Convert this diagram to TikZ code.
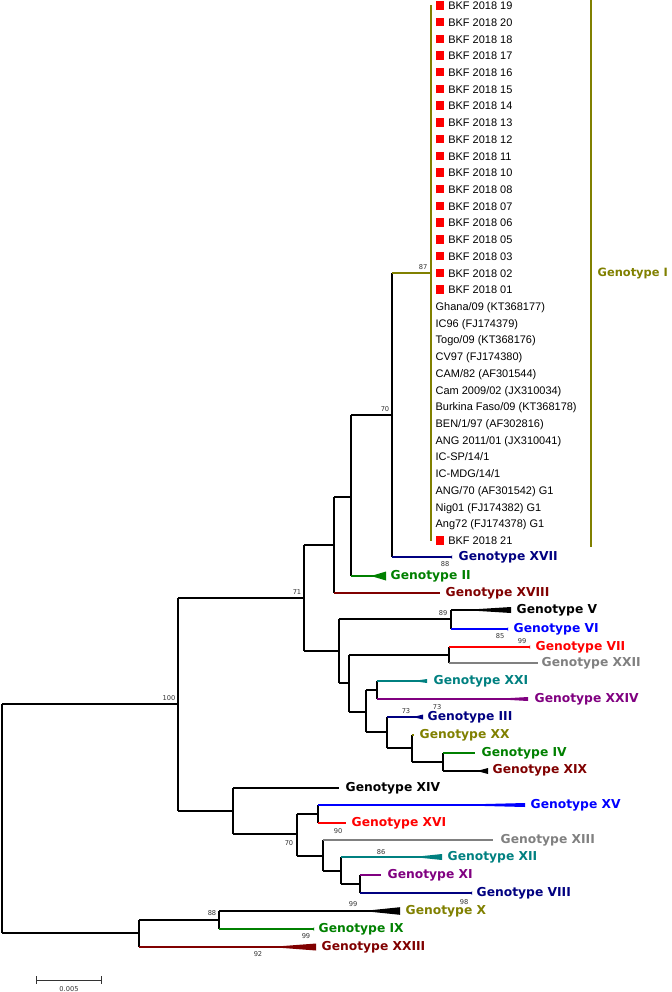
\documentclass[tikz,border=0pt]{standalone}
\usepackage{fontspec}
\setmainfont{Liberation Sans}
\newfontfamily\genofont{DejaVu Sans}
\usetikzlibrary{calc,arrows.meta}
\definecolor{gnavy}{RGB}{0,0,128}
\definecolor{ggreen}{RGB}{0,128,0}
\definecolor{gdred}{RGB}{128,0,0}
\definecolor{gblue}{RGB}{0,0,255}
\definecolor{gred}{RGB}{255,0,0}
\definecolor{ggray}{RGB}{128,128,128}
\definecolor{gteal}{RGB}{0,128,128}
\definecolor{gpurple}{RGB}{128,0,128}
\definecolor{golive}{RGB}{128,128,0}
\newcommand{\bkf}[1]{{\color{red}\rule{4.8pt}{4.8pt}}\hspace{2.4pt}BKF 2018 #1}
\newcommand{\branch}[3][black]{\draw (#2) -- (#2 |- #3); \draw[#1] (#2 |- #3) -- (#3);}
\newcommand{\clade}[4][black]{\fill[#1] ($(#2)+(-#3,0)$) -- ($(#2)+(0,#4)$) -- ($(#2)+(0,-#4)$) -- cycle;}
\begin{document}
\begin{tikzpicture}[x=0.02cm,y=-0.02cm,line width=0.75pt,
    taxon/.style={font=\fontsize{6.25}{7}\selectfont,anchor=base west,inner sep=0pt},
    geno/.style={font=\genofont\bfseries\fontsize{7}{8}\selectfont,anchor=west,inner sep=0pt},
    boot/.style={font=\genofont\fontsize{3.8}{4.5}\selectfont,text=black!80,inner sep=0pt}]
  \useasboundingbox (0,0) rectangle (672,992);
  \coordinate (root) at (2,818.5);
  \coordinate (n100) at (178,704);
  \coordinate (n71) at (304,598);
  \coordinate (nA) at (334,545);
  \coordinate (nB) at (351,497);
  \coordinate (n70) at (392,415);
  \coordinate (n87) at (431,273);
  \coordinate (nC) at (339,651);
  \coordinate (n89) at (451,619);
  \coordinate (nD) at (349,683);
  \coordinate (n99) at (449,655);
  \coordinate (nE) at (366,712);
  \coordinate (nF) at (377,690);
  \coordinate (nG) at (387,732);
  \coordinate (nH) at (412,748);
  \coordinate (nK) at (443,762);
  \coordinate (nL) at (233,811);
  \coordinate (n70b) at (297,834);
  \coordinate (nM) at (318,814);
  \coordinate (nN) at (323,856);
  \coordinate (nP) at (341,871);
  \coordinate (nQ) at (360,884);
  \coordinate (nS) at (139,933);
  \coordinate (n88) at (219,920);
  \coordinate (gTop) at (431,5);
  \coordinate (gBot) at (431,541);
  \coordinate (barTop) at (591,0);
  \coordinate (barBot) at (591,547);
  \coordinate (tXVII) at (452,557);
  \coordinate (tII) at (386,576);
  \coordinate (tXVIII) at (440,593);
  \coordinate (tV) at (511,610);
  \coordinate (tVI) at (508,629);
  \coordinate (tVII) at (530,647);
  \coordinate (tXXII) at (538,663);
  \coordinate (tXXI) at (427,681);
  \coordinate (tXXIV) at (528,699);
  \coordinate (tIII) at (423,717);
  \coordinate (tXX) at (414,735);
  \coordinate (tIV) at (475,753);
  \coordinate (tXIX) at (488,771);
  \coordinate (tXIV) at (339,788);
  \coordinate (tXV) at (525,805);
  \coordinate (tXVI) at (346,823);
  \coordinate (tXIII) at (493,840);
  \coordinate (tXII) at (442,857);
  \coordinate (tXI) at (381,875);
  \coordinate (tVIII) at (472,893);
  \coordinate (tX) at (400,911);
  \coordinate (tIX) at (314,929);
  \coordinate (tXXIII) at (316,947);
  \coordinate (sL) at (36,980);
  \coordinate (sR) at (102,980);

  \branch{root}{n100} \branch{root}{nS}
  \branch{n100}{n71} \branch{n100}{nL}
  \branch{n71}{nA} \branch{n71}{nC}
  \branch{nA}{nB} \branch[gdred]{nA}{tXVIII}
  \branch{nB}{n70} \branch[ggreen]{nB}{tII}
  \branch[golive]{n70}{n87} \branch[gnavy]{n70}{tXVII}
  \draw[golive,line width=1pt] (gTop) -- (gBot);
  \draw[golive,line width=1pt] (barTop) -- (barBot);
  \branch{nC}{n89} \branch{nC}{nD}
  \branch{n89}{tV} \branch[gblue]{n89}{tVI}
  \branch{nD}{n99} \branch{nD}{nE}
  \branch[gred]{n99}{tVII} \branch[ggray]{n99}{tXXII}
  \branch{nE}{nF} \branch{nE}{nG}
  \branch[gteal]{nF}{tXXI} \branch[gpurple]{nF}{tXXIV}
  \branch[gnavy]{nG}{tIII} \branch{nG}{nH}
  \branch[golive]{nH}{tXX} \branch{nH}{nK}
  \branch[ggreen]{nK}{tIV} \branch{nK}{tXIX}
  \branch{nL}{tXIV} \branch{nL}{n70b}
  \branch{n70b}{nM} \branch{n70b}{nN}
  \branch[gblue]{nM}{tXV} \branch[gred]{nM}{tXVI}
  \branch[ggray]{nN}{tXIII} \branch{nN}{nP}
  \branch[gteal]{nP}{tXII} \branch{nP}{nQ}
  \branch[gpurple]{nQ}{tXI} \branch[gnavy]{nQ}{tVIII}
  \branch{nS}{n88} \branch[gdred]{nS}{tXXIII}
  \branch{n88}{tX} \branch[ggreen]{n88}{tIX}

  \clade[ggreen]{tII}{15}{4.5}
  \clade{tV}{48}{3}
  \clade[gteal]{tXXI}{14}{2}
  \clade[gpurple]{tXXIV}{35}{2}
  \clade[gnavy]{tIII}{10}{2.5}
  \clade{tXIX}{11}{3}
  \clade[gblue]{tXV}{80}{2}
  \clade[gteal]{tXII}{29}{3}
  \clade{tX}{37}{3.8}
  \clade[gdred]{tXXIII}{46}{3.5}
  \clade[gnavy]{tXVII}{1}{2}
  \clade[gblue]{tVI}{1}{2}
  \clade[gred]{tVII}{1}{2}
  \clade[gnavy]{tVIII}{1}{2}
  \clade[ggreen]{tIX}{1}{2}

  \path
    (435,9.5) node[taxon] (k19) {\bkf{19}}
    (435,26.2) node[taxon] (k20) {\bkf{20}}
    (435,43.0) node[taxon] (k18) {\bkf{18}}
    (435,59.7) node[taxon] (k17) {\bkf{17}}
    (435,76.4) node[taxon] (k16) {\bkf{16}}
    (435,93.1) node[taxon] (k15) {\bkf{15}}
    (435,109.8) node[taxon] (k14) {\bkf{14}}
    (435,126.5) node[taxon] (k13) {\bkf{13}}
    (435,143.3) node[taxon] (k12) {\bkf{12}}
    (435,160.0) node[taxon] (k11) {\bkf{11}}
    (435,176.7) node[taxon] (k10) {\bkf{10}}
    (435,193.4) node[taxon] (k08) {\bkf{08}}
    (435,210.1) node[taxon] (k07) {\bkf{07}}
    (435,226.9) node[taxon] (k06) {\bkf{06}}
    (435,243.6) node[taxon] (k05) {\bkf{05}}
    (435,260.3) node[taxon] (k03) {\bkf{03}}
    (435,277.0) node[taxon] (k02) {\bkf{02}}
    (435,293.7) node[taxon] (k01) {\bkf{01}}
    (435,310.5) node[taxon] (ghana) {Ghana/09 (KT368177)}
    (435,327.2) node[taxon] (ic96) {IC96 (FJ174379)}
    (435,343.9) node[taxon] (togo) {Togo/09 (KT368176)}
    (435,360.6) node[taxon] (cv97) {CV97 (FJ174380)}
    (435,377.3) node[taxon] (cam82) {CAM/82 (AF301544)}
    (435,394.1) node[taxon] (cam09) {Cam 2009/02 (JX310034)}
    (435,410.8) node[taxon] (burk) {Burkina Faso/09 (KT368178)}
    (435,427.5) node[taxon] (ben) {BEN/1/97 (AF302816)}
    (435,444.2) node[taxon] (ang11) {ANG 2011/01 (JX310041)}
    (435,460.9) node[taxon] (icsp) {IC-SP/14/1}
    (435,477.7) node[taxon] (icmdg) {IC-MDG/14/1}
    (435,494.4) node[taxon] (ang70) {ANG/70 (AF301542) G1}
    (435,511.1) node[taxon] (nig01) {Nig01 (FJ174382) G1}
    (435,527.8) node[taxon] (ang72) {Ang72 (FJ174378) G1}
    (435,544.5) node[taxon] (k21) {\bkf{21}};

  \node[geno,text=golive,font=\genofont\bfseries\fontsize{6.5}{8}\selectfont] (gI) at (597,273) {Genotype I};
  \node[geno,text=gnavy] (gXVII) at (458,557) {Genotype XVII};
  \node[geno,text=ggreen] (gII) at (390,576) {Genotype II};
  \node[geno,text=gdred] (gXVIII) at (445,593) {Genotype XVIII};
  \node[geno,text=black] (gV) at (516,610) {Genotype V};
  \node[geno,text=gblue] (gVI) at (513,629) {Genotype VI};
  \node[geno,text=gred] (gVII) at (535,647) {Genotype VII};
  \node[geno,text=ggray] (gXXII) at (541,663) {Genotype XXII};
  \node[geno,text=gteal] (gXXI) at (433,681) {Genotype XXI};
  \node[geno,text=gpurple] (gXXIV) at (534,699) {Genotype XXIV};
  \node[geno,text=gnavy] (gIII) at (427,717) {Genotype III};
  \node[geno,text=golive] (gXX) at (419,735) {Genotype XX};
  \node[geno,text=ggreen] (gIV) at (481,753) {Genotype IV};
  \node[geno,text=gdred] (gXIX) at (492,770) {Genotype XIX};
  \node[geno,text=black] (gXIV) at (345,788) {Genotype XIV};
  \node[geno,text=gblue] (gXV) at (530,805) {Genotype XV};
  \node[geno,text=gred] (gXVI) at (351,823) {Genotype XVI};
  \node[geno,text=ggray] (gXIII) at (500,840) {Genotype XIII};
  \node[geno,text=gteal] (gXII) at (447,857) {Genotype XII};
  \node[geno,text=gpurple] (gXI) at (387,875) {Genotype XI};
  \node[geno,text=gnavy] (gVIII) at (476,893) {Genotype VIII};
  \node[geno,text=golive] (gX) at (405,911) {Genotype X};
  \node[geno,text=ggreen] (gIX) at (318,929) {Genotype IX};
  \node[geno,text=gdred] (gXXIII) at (321,947) {Genotype XXIII};

  \node[boot] (b100) at (169,698) {100};
  \node[boot] (b71) at (297,592) {71};
  \node[boot] (b70a) at (385,409) {70};
  \node[boot] (b87) at (423,267) {87};
  \node[boot] (b88a) at (445,564) {88};
  \node[boot] (b89) at (443,613) {89};
  \node[boot] (b85) at (500,636) {85};
  \node[boot] (b99a) at (522,641) {99};
  \node[boot] (b73a) at (406,711) {73};
  \node[boot] (b73b) at (437,707) {73};
  \node[boot] (b70b) at (289,843) {70};
  \node[boot] (b90) at (338,831) {90};
  \node[boot] (b86) at (381,852) {86};
  \node[boot] (b98) at (464,902) {98};
  \node[boot] (b88b) at (212,913) {88};
  \node[boot] (b99b) at (353,904) {99};
  \node[boot] (b99c) at (306,936) {99};
  \node[boot] (b92) at (258,954) {92};

  \draw[black!80,line width=0.5pt,{Bar[width=4pt]}-{Bar[width=4pt]}] (sL) -- (sR);
  \node[boot] (scale) at (69,989) {0.005};
\end{tikzpicture}
\end{document}
